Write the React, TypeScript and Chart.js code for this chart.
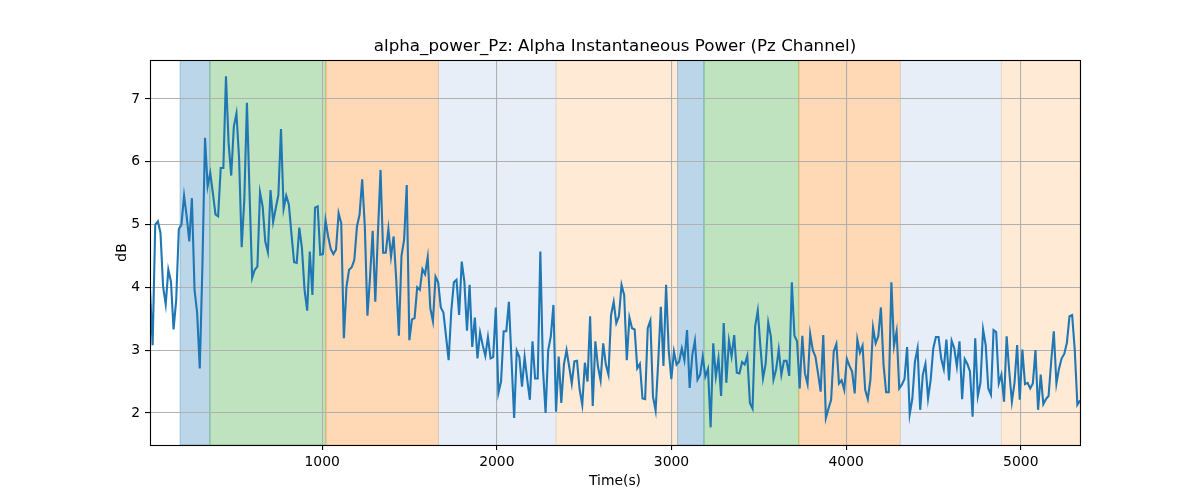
import React, { useEffect, useRef } from "react";
import { Chart, registerables } from "chart.js";

Chart.register(...registerables);

// ---- data ----
const TITLE = "alpha_power_Pz: Alpha Instantaneous Power (Pz Channel)";
const X_LABEL = "Time(s)";
const Y_LABEL = "dB";

const START_TIME = 14;
const TIME_STEP = 15;

const POWER_PART1 = [
  3.96, 3.08, 5.0, 5.05, 4.87, 4.01, 3.73, 4.28, 4.09, 3.33,
  3.8, 4.93, 5.0, 5.46, 5.13, 4.73, 5.42, 3.96, 3.59, 2.71,
  4.33, 6.38, 5.61, 5.82, 5.5, 5.16, 5.13, 5.9, 5.9, 7.36,
  6.3, 5.78, 6.56, 6.77, 6.06, 4.64, 5.4, 6.94, 5.5, 4.15,
  4.28, 4.33, 5.51, 5.29, 4.73, 4.56, 5.55, 5.04, 5.26, 5.47,
  6.52, 5.25, 5.46, 5.32, 4.85, 4.4, 4.39, 4.95, 4.62, 3.96,
  3.63, 4.57, 3.88, 5.27, 5.29, 4.52, 4.53, 5.07, 4.81, 4.61,
  4.53, 4.6, 5.18,
];
const POWER_PART2 = [
  5.02, 3.19, 4.01, 4.28, 4.32, 4.44, 4.97, 5.16, 5.72, 4.97,
  3.55, 4.17, 4.9, 3.77, 4.86, 5.87, 4.55, 4.55, 4.93, 4.49,
  4.81, 4.12, 3.23, 4.5, 4.76, 5.63, 3.16, 3.49, 3.51, 4.0,
  3.96, 4.29, 4.21, 4.48, 3.67, 3.46, 4.17, 4.08, 3.68, 3.6,
  3.22, 2.84, 3.62, 4.08, 4.12, 3.56, 4.41, 4.09, 3.31, 4.04,
  3.05, 3.52, 2.87, 3.28, 3.08, 2.91, 3.21, 2.87, 2.89, 3.68,
  2.32, 2.5, 3.3, 3.3, 3.77, 2.84, 1.92, 2.99, 2.89, 2.42,
  2.89, 2.53, 2.21,
];
const POWER_PART3 = [
  3.14, 2.55, 2.55, 4.57, 2.71, 2.0, 3.0, 3.22, 3.72, 2.02,
  2.9, 2.16, 2.77, 3.0, 2.74, 2.47, 2.82, 2.83, 2.37, 2.13,
  2.8, 2.5, 3.54, 2.11, 3.14, 2.74, 2.52, 3.11, 2.77, 2.61,
  3.56, 3.77, 3.43, 3.54, 4.04, 3.88, 2.84, 3.52, 3.35, 3.33,
  2.71, 2.78, 2.23, 2.22, 3.35, 3.47, 2.26, 2.04, 2.82, 3.69,
  2.75, 4.04, 3.0, 2.54, 2.98, 2.77, 2.82, 3.03, 2.84, 3.32,
  2.4, 2.92, 3.15, 2.53, 2.61, 2.9, 2.58, 2.7, 1.77, 3.11,
  2.58, 2.87,
];
const POWER_PART4 = [
  2.27, 3.43, 2.48, 3.15, 2.9, 3.24, 2.64, 2.63, 2.81, 2.77,
  2.91, 2.16, 2.07, 3.38, 3.63, 3.06, 2.55, 2.78, 3.44, 3.22,
  2.53, 2.69, 3.01, 2.61, 2.83, 2.83, 2.59, 4.08, 3.23, 3.14,
  2.39, 3.23, 2.63, 2.46, 3.26, 3.0, 2.9, 2.63, 2.34, 3.24,
  1.92, 2.07, 2.21, 2.98, 3.1, 2.47, 2.52, 2.37, 2.86, 2.75,
  2.66, 2.31, 3.17, 2.96, 3.07, 2.37, 2.22, 2.53, 3.36, 3.11,
  3.22, 3.68, 2.77, 2.33, 2.33, 4.08, 3.07, 3.3, 2.39, 2.45,
  2.54, 3.05, 1.98,
];
const POWER_PART5 = [
  2.23, 2.82, 3.03, 2.05, 2.61, 2.78, 2.23, 2.53, 3.03, 3.21,
  3.21, 2.87, 2.7, 3.17, 2.52, 3.15, 3.03, 2.74, 3.14, 2.22,
  2.86, 2.78, 2.66, 1.94, 3.19, 2.27, 2.48, 3.33, 3.08, 2.39,
  2.29, 3.32, 3.29, 2.47, 2.61, 2.18, 3.22, 2.66, 2.18, 2.48,
  3.08, 2.21, 3.01, 2.46, 2.48, 2.39, 2.47, 3.0, 2.05, 2.61,
  2.14, 2.22, 2.27, 2.82, 3.3, 2.47, 2.71, 2.87, 2.94, 3.12,
  3.54, 3.56, 3.0, 2.13, 2.2,
];

const POWER = [...POWER_PART1, ...POWER_PART2, ...POWER_PART3, ...POWER_PART4, ...POWER_PART5];
const TIMES = POWER.map((_, i) => START_TIME + i * TIME_STEP);

const X_TICKS = [1000, 2000, 3000, 4000, 5000];
const Y_TICKS = [2, 3, 4, 5, 6, 7];
const Y_MIN = 1.49;
const Y_MAX = 7.62;

const SPAN_STARTS = [186, 357, 1021, 1666, 2339, 3035, 3186, 3729, 4310, 4889];
const SPAN_ENDS = [357, 1021, 1666, 2339, 3035, 3186, 3729, 4310, 4889, 5339];
const SPAN_KINDS = ["blue", "green", "orange", "lightblue", "lightorange", "blue", "green", "orange", "lightblue", "lightorange"];

// ---- styles ----
const SPAN_COLORS: Record<string, string> = {
  blue: "rgba(31,119,180,0.3)",
  green: "rgba(44,160,44,0.3)",
  orange: "rgba(255,127,14,0.3)",
  lightblue: "rgba(174,199,232,0.3)",
  lightorange: "rgba(255,187,120,0.3)",
};
const FONT = "'DejaVu Sans', 'Liberation Sans', sans-serif";

const decorPlugin = {
  id: "decor",
  beforeDraw(chart: any) {
    const { ctx, chartArea, scales } = chart;
    const { left, top, right, bottom } = chartArea;
    ctx.save();
    ctx.beginPath();
    ctx.rect(left, top, right - left, bottom - top);
    ctx.clip();
    SPAN_STARTS.forEach((s, i) => {
      const x0 = scales.x.getPixelForValue(s);
      const x1 = scales.x.getPixelForValue(SPAN_ENDS[i]);
      const c = SPAN_COLORS[SPAN_KINDS[i]];
      ctx.fillStyle = c;
      ctx.fillRect(x0, top, x1 - x0, bottom - top);
      ctx.strokeStyle = c;
      ctx.lineWidth = 1;
      ctx.strokeRect(x0, top, x1 - x0, bottom - top);
    });
    ctx.restore();
  },
  afterDraw(chart: any) {
    const { ctx, chartArea } = chart;
    const { left, top, right, bottom } = chartArea;
    ctx.save();
    ctx.strokeStyle = "#000";
    ctx.lineWidth = 1.1;
    ctx.strokeRect(Math.round(left) + 0.5, Math.round(top) + 0.5, Math.round(right - left), Math.round(bottom - top));
    ctx.fillStyle = "#000";
    ctx.textAlign = "center";
    ctx.textBaseline = "alphabetic";
    const cx = (left + right) / 2;
    ctx.font = `16.7px ${FONT}`;
    ctx.fillText(TITLE, cx, top - 9.5);
    ctx.font = `13.9px ${FONT}`;
    ctx.fillText(X_LABEL, cx, 485);
    ctx.translate(126, (top + bottom) / 2);
    ctx.rotate(-Math.PI / 2);
    ctx.fillText(Y_LABEL, 0, 0);
    ctx.restore();
  },
};

export default function App() {
  const ref = useRef<HTMLCanvasElement | null>(null);
  useEffect(() => {
    if (!ref.current) return;
    const chart = new Chart(ref.current, {
      type: "line",
      data: {
        datasets: [
          {
            data: TIMES.map((t, i) => ({ x: t, y: POWER[i] })),
            borderColor: "#1f77b4",
            borderWidth: 2.1,
            pointRadius: 0,
            fill: false,
            tension: 0,
          },
        ],
      },
      options: {
        animation: false,
        responsive: false,
        devicePixelRatio: 1,
        events: [],
        layout: { padding: { left: 0, top: 60, right: 120, bottom: 0 } },
        plugins: { legend: { display: false }, tooltip: { enabled: false }, title: { display: false } },
        scales: {
          x: {
            type: "linear",
            min: TIMES[0],
            max: TIMES[TIMES.length - 1],
            afterBuildTicks: (s: any) => {
              s.ticks = X_TICKS.map((v) => ({ value: v }));
            },
            afterFit: (s: any) => {
              s.height = 55;
            },
            ticks: {
              color: "#000",
              font: { family: FONT, size: 13.9 },
              padding: 4,
              maxRotation: 0,
              autoSkip: false,
              callback: (v: any) => String(v),
            },
            grid: { color: "#b0b0b0", lineWidth: 1.1, tickColor: "#000", tickLength: 5, drawTicks: true },
            border: { display: false },
          },
          y: {
            type: "linear",
            min: Y_MIN,
            max: Y_MAX,
            afterBuildTicks: (s: any) => {
              s.ticks = Y_TICKS.map((v) => ({ value: v }));
            },
            afterFit: (s: any) => {
              s.width = 150;
            },
            ticks: {
              color: "#000",
              font: { family: FONT, size: 13.9 },
              padding: 5,
              autoSkip: false,
              callback: (v: any) => String(v),
            },
            grid: { color: "#b0b0b0", lineWidth: 1.1, tickColor: "#000", tickLength: 5, drawTicks: true },
            border: { display: false },
          },
        },
      },
      plugins: [decorPlugin],
    });
    return () => chart.destroy();
  }, []);
  return (
    <div style={{ position: "fixed", left: 0, top: 0, width: 1200, height: 500, background: "#fff" }}>
      <canvas ref={ref} width={1200} height={500} style={{ width: 1200, height: 500, display: "block" }} />
    </div>
  );
}
